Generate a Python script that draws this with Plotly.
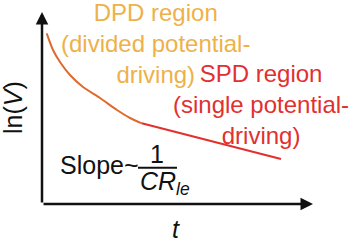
import plotly.graph_objects as go

# Schematic data (t, ln V), arbitrary units
t_dpd = [0.047, 0.11, 0.18, 0.28, 0.41, 0.58, 0.75, 0.88, 0.997]
lnv_dpd = [1.707, 1.54, 1.42, 1.29, 1.17, 1.06, 0.94, 0.86, 0.807]
t_spd = [0.997, 2.39]
lnv_spd = [0.807, 0.45]
axis_t_max = 2.71
axis_lnv_max = 1.92

ORANGE_LINE = "#E0692C"
ORANGE_TEXT = "#EEB14A"
RED = "#E2302F"
FONT = "Liberation Sans, Arial, sans-serif"

fig = go.Figure()
fig.add_trace(go.Scatter(x=t_dpd, y=lnv_dpd, mode="lines",
                         line=dict(color=ORANGE_LINE, width=2, shape="spline", smoothing=0.6),
                         hoverinfo="skip", showlegend=False))
fig.add_trace(go.Scatter(x=t_spd, y=lnv_spd, mode="lines",
                         line=dict(color=RED, width=2.2),
                         hoverinfo="skip", showlegend=False))

annotations = [
    # axes with arrows
    dict(x=axis_t_max, y=0, ax=0, ay=0, xref="x", yref="y", axref="x", ayref="y",
         text="", showarrow=True, arrowhead=2, arrowsize=1, arrowwidth=2.5,
         arrowcolor="#111111", standoff=0),
    dict(x=0, y=axis_lnv_max, ax=0, ay=0, xref="x", yref="y", axref="x", ayref="y",
         text="", showarrow=True, arrowhead=2, arrowsize=1, arrowwidth=2.5,
         arrowcolor="#111111", standoff=0),
    dict(x=1.13, y=1.61, xref="x", yref="y", showarrow=False, align="center",
         text="DPD region<br>(divided potential-<br>driving)",
         font=dict(family=FONT, size=24, color=ORANGE_TEXT)),
    dict(x=2.19, y=1.00, xref="x", yref="y", showarrow=False, align="center",
         text="SPD region<br>(single potential-<br>driving)",
         font=dict(family=FONT, size=24, color=RED)),
    dict(x=0.16, y=0.39, xref="x", yref="y", showarrow=False, xanchor="left",
         text="Slope~", font=dict(family=FONT, size=25, color="#111111")),
    dict(x=1.15, y=0.50, xref="x", yref="y", showarrow=False,
         text="1", font=dict(family=FONT, size=25, color="#111111")),
    dict(x=0.955, y=0.215, xref="x", yref="y", showarrow=False, xanchor="left",
         text="<i>CR</i><sub><i>le</i></sub>", font=dict(family=FONT, size=25, color="#111111")),
    dict(x=1.34, y=-0.25, xref="x", yref="y", showarrow=False,
         text="<i>t</i>", font=dict(family=FONT, size=25, color="#111111")),
    dict(x=-0.29, y=0.96, xref="x", yref="y", showarrow=False, textangle=-90,
         text="ln(<i>V</i>)", font=dict(family=FONT, size=25, color="#111111")),
]

fig.update_layout(
    width=354, height=242,
    margin=dict(l=0, r=0, t=0, b=0),
    paper_bgcolor="white", plot_bgcolor="white",
    xaxis=dict(range=[-0.42, 3.12], visible=False, fixedrange=True),
    yaxis=dict(range=[-0.38, 2.04], visible=False, fixedrange=True),
    annotations=annotations,
    shapes=[dict(type="line", xref="x", yref="y", x0=0.96, x1=1.35, y0=0.363, y1=0.363,
                 line=dict(color="#111111", width=2))],
)

fig.write_html("out.html", config={"displayModeBar": False})
